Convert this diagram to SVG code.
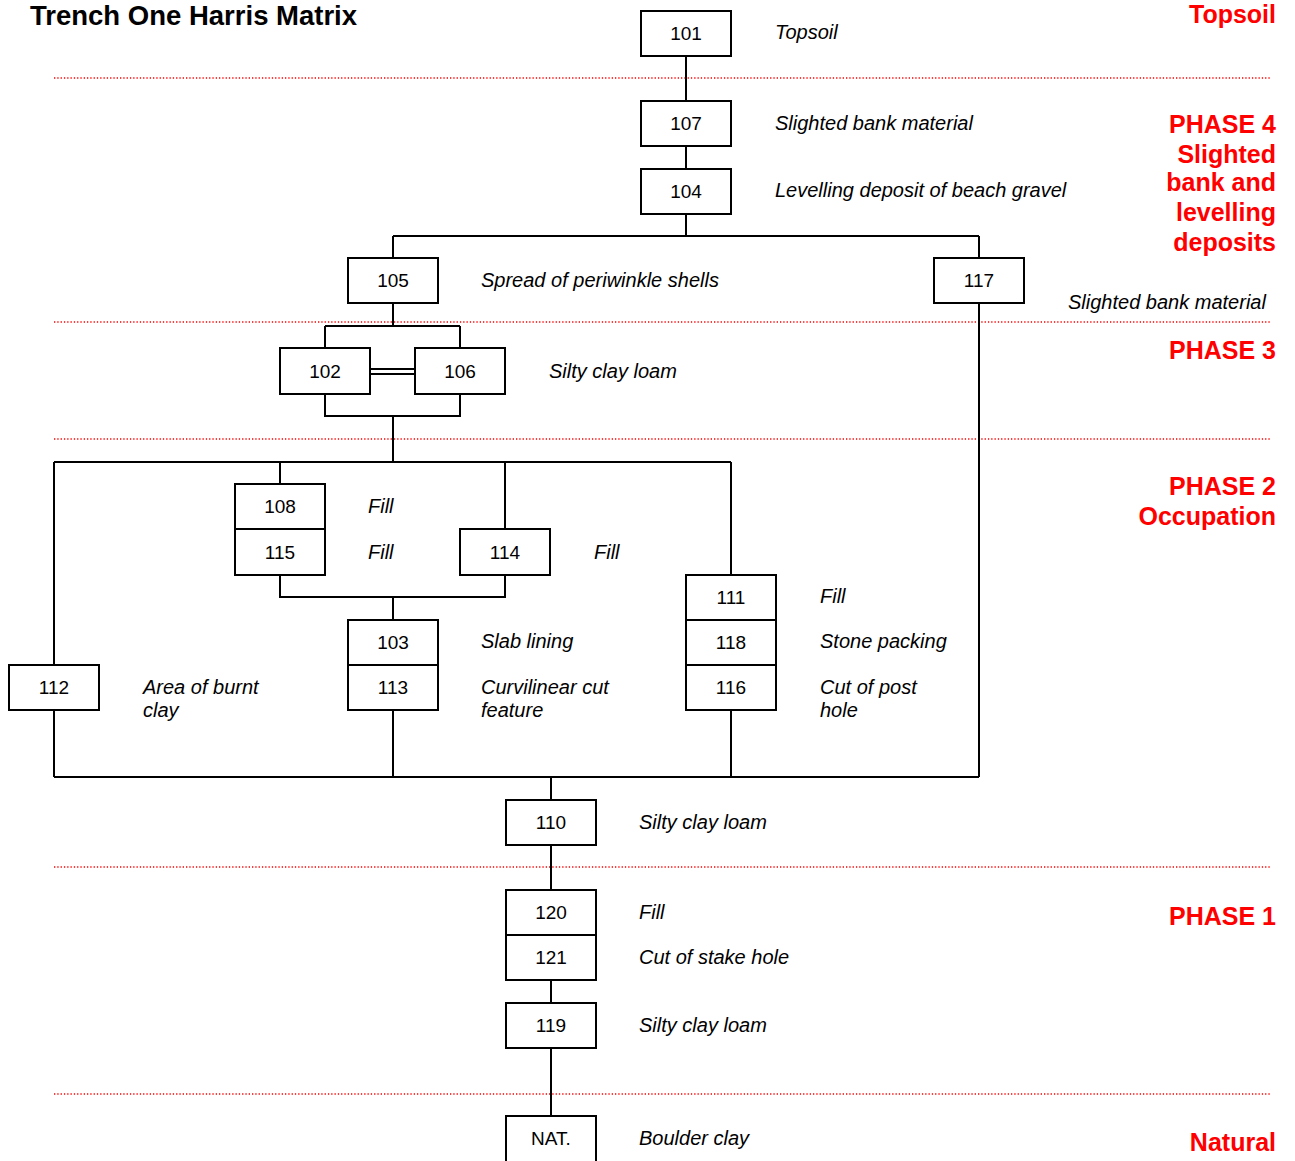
<svg xmlns="http://www.w3.org/2000/svg" width="1295" height="1161" viewBox="0 0 1295 1161">
<style>
.bx{fill:#fff;stroke:#000;stroke-width:2}
.n{font-family:"Liberation Sans",Arial,sans-serif;font-size:19px;text-anchor:middle;fill:#000}
.d{font-family:"Liberation Sans",Arial,sans-serif;font-size:20px;font-style:italic;fill:#000}
.p{font-family:"Liberation Sans",Arial,sans-serif;font-size:25px;font-weight:bold;fill:#ff0000;text-anchor:end}
.t{font-family:"Liberation Sans",Arial,sans-serif;font-size:27.5px;font-weight:bold;fill:#000}
.dot{stroke:#ff0000;stroke-width:1.3;stroke-dasharray:1.3 2;fill:none}
.c{stroke:#000;stroke-width:2;fill:none}
</style>
<rect width="1295" height="1161" fill="#fff"/>
<text class="t" x="30" y="25">Trench One Harris Matrix</text>
<g id="phase-lines">
<line class="dot" x1="54" y1="78" x2="1271" y2="78"/>
<line class="dot" x1="54" y1="322" x2="1271" y2="322"/>
<line class="dot" x1="54" y1="439" x2="1271" y2="439"/>
<line class="dot" x1="54" y1="867" x2="1271" y2="867"/>
<line class="dot" x1="54" y1="1094" x2="1271" y2="1094"/>
</g>
<g id="phase-labels">
<text class="p" x="1276" y="23">Topsoil</text>
<text class="p" x="1276" y="133">PHASE 4</text>
<text class="p" x="1276" y="163">Slighted</text>
<text class="p" x="1276" y="191">bank and</text>
<text class="p" x="1276" y="221">levelling</text>
<text class="p" x="1276" y="251">deposits</text>
<text class="p" x="1276" y="359">PHASE 3</text>
<text class="p" x="1276" y="495">PHASE 2</text>
<text class="p" x="1276" y="525">Occupation</text>
<text class="p" x="1276" y="925">PHASE 1</text>
<text class="p" x="1276" y="1151">Natural</text>
</g>
<g id="connectors">
<path class="c" d="M686 56V101M686 146V169M686 214V236M393 236H979M393 236V258M979 236V258"/>
<path class="c" d="M393 303V326M325 326H460M325 326V348M460 326V348"/>
<path class="c" d="M325 394V416H460V394M393 416V462"/>
<path class="c" d="M370 369H415M370 374H415" stroke-width="1.6"/>
<path class="c" d="M54 462H731M54 462V665M280 462V484M505 462V529M731 462V575"/>
<path class="c" d="M280 575V597H505V575M393 597V620"/>
<path class="c" d="M54 710V777M393 710V777M731 710V777M979 303V777M54 777H979M551 777V800"/>
<path class="c" d="M551 845V890M551 980V1003M551 1048V1116"/>
</g>
<g id="n101"><rect class="bx" x="641" y="11" width="90" height="45"/><text class="n" x="686" y="40">101</text></g>
<g id="n107"><rect class="bx" x="641" y="101" width="90" height="45"/><text class="n" x="686" y="130">107</text></g>
<g id="n104"><rect class="bx" x="641" y="169" width="90" height="45"/><text class="n" x="686" y="198">104</text></g>
<g id="n105"><rect class="bx" x="348" y="258" width="90" height="45"/><text class="n" x="393" y="287">105</text></g>
<g id="n117"><rect class="bx" x="934" y="258" width="90" height="45"/><text class="n" x="979" y="287">117</text></g>
<g id="n102"><rect class="bx" x="280" y="348" width="90" height="46"/><text class="n" x="325" y="378">102</text></g>
<g id="n106"><rect class="bx" x="415" y="348" width="90" height="46"/><text class="n" x="460" y="378">106</text></g>
<g id="n108"><rect class="bx" x="235" y="484" width="90" height="45"/><text class="n" x="280" y="513">108</text></g>
<g id="n115"><rect class="bx" x="235" y="529" width="90" height="46"/><text class="n" x="280" y="559">115</text></g>
<g id="n114"><rect class="bx" x="460" y="529" width="90" height="46"/><text class="n" x="505" y="559">114</text></g>
<g id="n111"><rect class="bx" x="686" y="575" width="90" height="45"/><text class="n" x="731" y="604">111</text></g>
<g id="n118"><rect class="bx" x="686" y="620" width="90" height="45"/><text class="n" x="731" y="649">118</text></g>
<g id="n116"><rect class="bx" x="686" y="665" width="90" height="45"/><text class="n" x="731" y="694">116</text></g>
<g id="n103"><rect class="bx" x="348" y="620" width="90" height="45"/><text class="n" x="393" y="649">103</text></g>
<g id="n113"><rect class="bx" x="348" y="665" width="90" height="45"/><text class="n" x="393" y="694">113</text></g>
<g id="n112"><rect class="bx" x="9" y="665" width="90" height="45"/><text class="n" x="54" y="694">112</text></g>
<g id="n110"><rect class="bx" x="506" y="800" width="90" height="45"/><text class="n" x="551" y="829">110</text></g>
<g id="n120"><rect class="bx" x="506" y="890" width="90" height="45"/><text class="n" x="551" y="919">120</text></g>
<g id="n121"><rect class="bx" x="506" y="935" width="90" height="45"/><text class="n" x="551" y="964">121</text></g>
<g id="n119"><rect class="bx" x="506" y="1003" width="90" height="45"/><text class="n" x="551" y="1032">119</text></g>
<g id="nNAT"><rect class="bx" x="506" y="1116" width="90" height="50"/><text class="n" x="551" y="1145">NAT.</text></g>
<g id="descriptions">
<text class="d" x="775" y="39">Topsoil</text>
<text class="d" x="775" y="130">Slighted bank material</text>
<text class="d" x="775" y="197">Levelling deposit of beach gravel</text>
<text class="d" x="481" y="287">Spread of periwinkle shells</text>
<text class="d" x="1068" y="309">Slighted bank material</text>
<text class="d" x="549" y="378">Silty clay loam</text>
<text class="d" x="368" y="513">Fill</text>
<text class="d" x="368" y="559">Fill</text>
<text class="d" x="594" y="559">Fill</text>
<text class="d" x="820" y="603">Fill</text>
<text class="d" x="820" y="648">Stone packing</text>
<text class="d" x="820" y="694">Cut of post</text>
<text class="d" x="820" y="717">hole</text>
<text class="d" x="481" y="648">Slab lining</text>
<text class="d" x="481" y="694">Curvilinear cut</text>
<text class="d" x="481" y="717">feature</text>
<text class="d" x="143" y="694">Area of burnt</text>
<text class="d" x="143" y="717">clay</text>
<text class="d" x="639" y="829">Silty clay loam</text>
<text class="d" x="639" y="919">Fill</text>
<text class="d" x="639" y="964">Cut of stake hole</text>
<text class="d" x="639" y="1032">Silty clay loam</text>
<text class="d" x="639" y="1145">Boulder clay</text>
</g>
</svg>
